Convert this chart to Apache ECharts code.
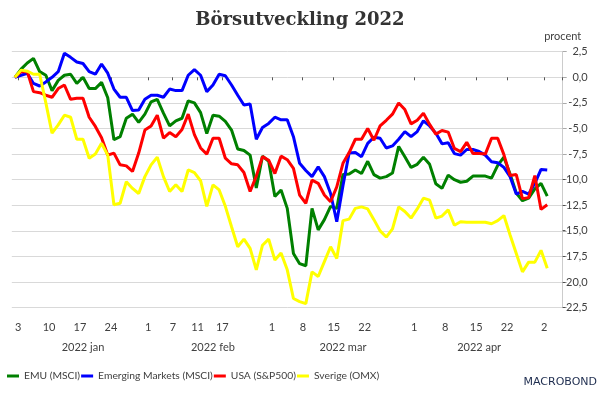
<!DOCTYPE html>
<html>
<head>
<meta charset="utf-8">
<title>Börsutveckling 2022</title>
<script src="https://cdn.jsdelivr.net/npm/echarts@6/dist/echarts.min.js"></script>
<style>
  html, body { margin: 0; padding: 0; background: #fff; }
  #chart { width: 600px; height: 396px; }
</style>
</head>
<body>
<div id="chart"></div>
<script>
// handelsdagar: alla vardagar från 31 dec 2021 till 4 maj 2022
const firstDay = '2021-12-31'
const lastDay = '2022-05-04'

// dagar som får en etikett på x-axeln
const dayTicks = [
  '2022-01-03', '2022-01-10', '2022-01-17', '2022-01-24',
  '2022-02-01', '2022-02-07', '2022-02-11', '2022-02-17',
  '2022-03-01', '2022-03-08', '2022-03-15', '2022-03-22',
  '2022-04-01', '2022-04-08', '2022-04-15', '2022-04-22',
  '2022-05-02'
]
const monthNames = ['2022 jan', '2022 feb', '2022 mar', '2022 apr']
const monthAnchors = ['2022-01-17', '2022-02-15', '2022-03-16', '2022-04-15']

// procentuell utveckling sedan årsskiftet, en punkt per vardag (31 dec - 2 maj)
const emu = [
  0, 0.8, 1.4, 1.85, 0.55, 0.2, -1.3, -0.3, 0.2, 0.3,
  -0.6, 0, -1.1, -1.1, -0.5, -2.0, -6.1, -5.8, -4.0, -3.6,
  -4.4, -3.6, -2.4, -2.15, -3.5, -4.75, -4.25, -4.0, -2.3, -2.5,
  -3.45, -5.5, -3.7, -3.8, -4.3, -5.15, -7.0, -7.15, -7.6, -10.8,
  -7.7, -8.2, -11.65, -11.0, -12.8, -17.2, -18.2, -18.4, -12.8, -14.9,
  -13.9, -12.6, -12.8, -9.5, -9.45, -9.05, -9.4, -8.2, -9.5, -9.85,
  -9.7, -9.35, -6.75, -7.75, -8.8, -8.5, -7.8, -8.5, -10.4, -10.85,
  -9.55, -10.0, -10.25, -10.15, -9.65, -9.65, -9.65, -9.85, -8.6, -7.8,
  -9.45, -11.3, -12.05, -11.8, -10.9, -10.35, -11.6
]
const emerging = [
  0, 0.2, 0.4, -0.6, -0.85, -0.45, 0, 0.55, 2.35, 1.95,
  1.5, 1.35, 0.55, 0.3, 1.3, 0.4, -1.15, -1.95, -1.95, -3.25,
  -3.2, -2.15, -1.75, -1.75, -1.95, -1.15, -1.3, -1.3, 0.2, 0.75,
  0.2, -1.4, -0.75, 0.3, 0.15, -0.75, -1.75, -2.7, -2.6, -6.05,
  -4.9, -4.5, -3.9, -4.15, -4.15, -5.8, -8.4, -9.1, -9.7, -8.75,
  -9.7, -11.35, -14.1, -10.6, -7.4, -7.35, -7.75, -6.45, -5.85, -5.95,
  -6.9, -6.7, -6.05, -5.3, -5.8, -5.3, -4.25, -4.75, -5.45, -6.5,
  -6.4, -7.45, -7.6, -7.05, -7.05, -7.25, -7.6, -8.25, -8.35, -8.8,
  -9.7, -11.4, -11.15, -11.4, -10.35, -9.0, -9.05
]
const usa = [
  0, 0.55, 0.55, -1.4, -1.5, -1.75, -1.95, -1.1, -0.75, -2.15,
  -2.05, -2.05, -3.9, -4.8, -5.9, -7.6, -7.4, -8.55, -8.65, -9.2,
  -7.4, -5.15, -4.75, -3.7, -5.95, -5.4, -5.8, -5.1, -3.6, -5.6,
  -6.9, -7.5, -5.95, -5.95, -7.9, -8.45, -8.55, -9.3, -11.15, -9.65,
  -7.75, -8.1, -9.4, -7.7, -8.05, -8.9, -11.5, -12.3, -10.05, -10.35,
  -11.5, -12.15, -10.7, -8.4, -7.35, -6.05, -6.05, -5.0, -6.15, -4.75,
  -4.2, -3.6, -2.5, -3.15, -4.55, -4.2, -3.5, -4.6, -5.55, -5.2,
  -5.35, -6.95, -7.25, -6.35, -7.45, -7.45, -7.5, -5.95, -5.95, -7.55,
  -9.6, -9.5, -11.85, -11.75, -9.6, -12.9, -12.45
]
const sverige = [
  0, 0.7, 0.6, 0.3, 0.3, -2.5, -5.45, -4.65, -3.7, -3.9,
  -6.05, -6.05, -7.9, -7.5, -6.45, -7.6, -12.45, -12.3, -10.2, -10.85,
  -11.35, -9.7, -8.55, -7.8, -9.7, -11.15, -10.5, -11.15, -9.05, -9.3,
  -10.1, -12.6, -10.5, -11.0, -12.6, -14.6, -16.55, -15.8, -16.7, -18.8,
  -16.4, -15.8, -17.85, -17.15, -18.8, -21.6, -21.9, -22.1, -19.0, -19.45,
  -18.0, -16.55, -17.7, -14.0, -13.85, -12.8, -12.65, -12.85, -13.9, -15.0,
  -15.6, -14.8, -12.65, -13.1, -13.75, -12.85, -11.8, -12.0, -13.75, -13.55,
  -12.95, -14.45, -14.1, -14.15, -14.15, -14.15, -14.15, -14.3, -14.0, -13.5,
  -15.4, -17.2, -19.0, -18.05, -18.05, -16.9, -18.65
]

const seriesNames = ['EMU (MSCI)', 'Emerging Markets (MSCI)', 'USA (S&P500)', 'Sverige (OMX)']
const seriesColors = ['#008000', '#0000ff', '#ff0000', '#ffff00']

const days = []
for (let d = new Date(firstDay + 'T00:00:00Z'); d <= new Date(lastDay + 'T00:00:00Z'); d.setUTCDate(d.getUTCDate() + 1)) {
  const wd = d.getUTCDay()
  if (wd === 0 || wd === 6) continue
  days.push(d.toISOString().slice(0, 10))
}

const textColor = '#404040'
const font = 'Lato'

const chart = echarts.init(document.getElementById('chart'), null, { renderer: 'canvas' })

const option = {
  animation: false,
  backgroundColor: '#fff',
  textStyle: { fontFamily: font },
  title: {
    text: 'Börsutveckling 2022',
    left: 'center',
    top: 6,
    textStyle: {
      fontFamily: 'DejaVu Serif',
      fontWeight: 'bold',
      fontSize: 18,
      color: '#333'
    }
  },
  grid: {
    left: 11.8,
    right: 37.3,
    top: 51.7,
    bottom: 88.3
  },
  legend: {
    left: 2,
    top: 366,
    icon: 'rect',
    itemWidth: 12,
    itemHeight: 3,
    itemGap: 1,
    textStyle: { color: textColor, fontSize: 10.3, fontFamily: font },
    data: seriesNames
  },
  xAxis: [
    {
      type: 'category',
      data: days,
      boundaryGap: true,
      position: 'bottom',
      offset: 7,
      axisLine: { show: false },
      axisTick: {
        show: true,
        length: 3,
        interval: (i, v) => dayTicks.includes(v),
        lineStyle: { color: '#555' }
      },
      axisLabel: {
        interval: (i, v) => dayTicks.includes(v),
        formatter: v => String(Number(v.slice(8))),
        margin: 7,
        padding: [0, 6, 0, 0],
        color: textColor,
        fontSize: 11
      },
      splitLine: { show: false }
    },
    {
      type: 'category',
      data: days,
      boundaryGap: true,
      position: 'bottom',
      offset: 27,
      axisLine: { show: false },
      axisTick: { show: false },
      axisLabel: {
        interval: (i, v) => monthAnchors.includes(v),
        formatter: v => monthNames[monthAnchors.indexOf(v)] || '',
        margin: 7,
        color: textColor,
        fontSize: 11
      },
      splitLine: { show: false }
    }
  ],
  yAxis: {
    type: 'value',
    position: 'right',
    min: -22.5,
    max: 2.5,
    interval: 2.5,
    name: 'procent',
    nameLocation: 'end',
    nameGap: 10,
    nameTextStyle: { color: textColor, fontSize: 11 },
    axisLine: { show: true, lineStyle: { color: '#cccccc' } },
    axisTick: { show: true, length: 4, lineStyle: { color: '#aaaaaa' } },
    axisLabel: {
      formatter: v => v.toFixed(1).replace('.', ','),
      align: 'right',
      margin: 25,
      color: textColor,
      fontSize: 11
    },
    splitLine: { lineStyle: { color: '#d9d9d9', width: 1 } }
  },
  series: [emu, emerging, usa, sverige].map((vals, k) => ({
    name: seriesNames[k],
    type: 'line',
    data: vals,
    showSymbol: false,
    color: seriesColors[k],
    lineStyle: { width: 3, color: seriesColors[k] },
    emphasis: { disabled: true }
  })),
  graphic: [
    {
      type: 'text',
      right: 3,
      top: 377,
      style: {
        text: 'MACROBOND',
        fill: '#1e2d4f',
        font: '11px "DejaVu Sans"'
      }
    }
  ]
}

chart.setOption(option)
window.addEventListener('resize', () => chart.resize())
</script>
</body>
</html>
